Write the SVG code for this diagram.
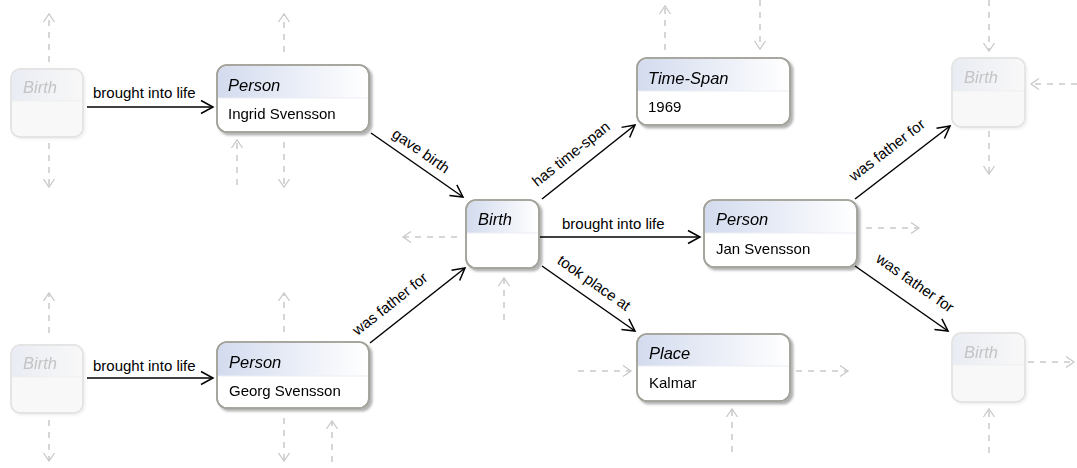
<svg xmlns="http://www.w3.org/2000/svg" width="1077" height="468" viewBox="0 0 1077 468">
<style>
text{font-family:"Liberation Sans",Arial,sans-serif;}
.hd{font-size:16.5px;font-style:italic;fill:#000;}
.val{font-size:15px;fill:#000;}
.lbl{font-size:15px;fill:#000;}
.fhd{font-size:16.5px;font-style:italic;fill:#c4c4c4;}
.box{fill:#fff;stroke:#a3a39b;stroke-width:1.6;}
.fbox{fill:#f8f8f8;stroke:#e3e3e3;stroke-width:1.4;}
.sep{stroke:#eceef4;stroke-width:1;}
.fsep{stroke:#efefef;stroke-width:1;}
.edge{fill:none;stroke:#000;stroke-width:1.5;marker-end:url(#ah);}
.stub{fill:none;stroke:#c9c9c9;stroke-width:1.5;stroke-dasharray:6 6;marker-end:url(#sh);}
</style>
<defs>
<linearGradient id="hg" x1="0" y1="0" x2="1" y2="0">
<stop offset="0" stop-color="#d3dbee"/>
<stop offset="1" stop-color="#ffffff"/>
</linearGradient>
<linearGradient id="fhg" x1="0" y1="0" x2="1" y2="0">
<stop offset="0" stop-color="#e9ecf3"/>
<stop offset="1" stop-color="#f8f8f8"/>
</linearGradient>
<filter id="sd" x="-10%" y="-10%" width="130%" height="140%">
<feDropShadow dx="2.5" dy="2.5" stdDeviation="1.2" flood-color="#000" flood-opacity="0.3"/>
</filter>
<filter id="fsd" x="-10%" y="-10%" width="130%" height="140%">
<feDropShadow dx="1.5" dy="1.5" stdDeviation="1" flood-color="#000" flood-opacity="0.06"/>
</filter>
<marker id="ah" viewBox="-14 -8 16 16" refX="0" refY="0" markerWidth="16" markerHeight="16" markerUnits="userSpaceOnUse" orient="auto">
<path d="M-12,-6.5 L0,0 L-12,6.5" fill="none" stroke="#000" stroke-width="1.5"/>
</marker>
<marker id="sh" viewBox="-12 -8 14 16" refX="0" refY="0" markerWidth="14" markerHeight="16" markerUnits="userSpaceOnUse" orient="auto">
<path d="M-8,-5.5 L0,0 L-8,5.5" fill="none" stroke="#c9c9c9" stroke-width="1.3"/>
</marker>
</defs>

<g id="stubs">
<path class="stub" d="M49,62 V14"/>
<path class="stub" d="M49,143 V187"/>
<path class="stub" d="M284,52 V14"/>
<path class="stub" d="M284,142 V187"/>
<path class="stub" d="M237,185 V140"/>
<path class="stub" d="M665,50 V6"/>
<path class="stub" d="M760,0 V49"/>
<path class="stub" d="M989,0 V51"/>
<path class="stub" d="M989,131 V174"/>
<path class="stub" d="M1077,84 H1031"/>
<path class="stub" d="M457,237 H403"/>
<path class="stub" d="M504,320 H504 V278"/>
<path class="stub" d="M866,228 H919"/>
<path class="stub" d="M578,371 H631"/>
<path class="stub" d="M796,371 H848"/>
<path class="stub" d="M732,452 V409"/>
<path class="stub" d="M1028,362 H1074"/>
<path class="stub" d="M989,453 V409"/>
<path class="stub" d="M49,333 V293"/>
<path class="stub" d="M49,420 V461"/>
<path class="stub" d="M284,332 V293"/>
<path class="stub" d="M284,418 V461"/>
<path class="stub" d="M332,462 V421"/>
</g>

<g id="connectors">
<path class="edge" d="M87,107 H213"/>
<text class="lbl" x="93" y="98">brought into life</text>
<path class="edge" d="M87,378 H213"/>
<text class="lbl" x="93" y="371">brought into life</text>
<path class="edge" d="M371,133 L463,197"/>
<text class="lbl" text-anchor="middle" y="5" transform="translate(421,151) rotate(34.8)">gave birth</text>
<path class="edge" d="M370,343 L465,268"/>
<text class="lbl" text-anchor="middle" y="5" transform="translate(390,304) rotate(-38.3)">was father for</text>
<path class="edge" d="M542,199 L635,125"/>
<text class="lbl" text-anchor="middle" y="5" transform="translate(571,154) rotate(-38.5)">has time-span</text>
<path class="edge" d="M539,237 H700"/>
<text class="lbl" x="562" y="229">brought into life</text>
<path class="edge" d="M542,266 L635,331"/>
<text class="lbl" text-anchor="middle" y="5" transform="translate(594,283) rotate(35)">took place at</text>
<path class="edge" d="M855,199 L950,126"/>
<text class="lbl" text-anchor="middle" y="5" transform="translate(887,150) rotate(-37.5)">was father for</text>
<path class="edge" d="M855,266 L948,331"/>
<text class="lbl" text-anchor="middle" y="5" transform="translate(915,283) rotate(35)">was father for</text>
</g>

<g id="birth-tl" filter="url(#fsd)">
<rect class="fbox" x="11" y="69" width="72" height="68" rx="9"/>
<path d="M11.7,101 V78 A9,9 0 0 1 20,69.7 H74 A9,9 0 0 1 82.3,78 V101 Z" fill="url(#fhg)"/>
<line class="fsep" x1="12" y1="101" x2="82" y2="101"/>
<rect x="11" y="69" width="72" height="68" rx="9" fill="none" stroke="#e3e3e3" stroke-width="1.4"/>
<text class="fhd" x="23" y="93">Birth</text>
</g>

<g id="person-ingrid" filter="url(#sd)">
<rect class="box" x="217" y="65" width="152" height="67" rx="10"/>
<path d="M218,98 V75 A9,9 0 0 1 227,66 H359 A9,9 0 0 1 368,75 V98 Z" fill="url(#hg)"/>
<line class="sep" x1="218" y1="98" x2="368" y2="98"/>
<rect x="217" y="65" width="152" height="67" rx="10" fill="none" stroke="#a3a39b" stroke-width="1.6"/>
<text class="hd" x="228" y="91">Person</text>
<text class="val" x="228" y="119">Ingrid Svensson</text>
</g>

<g id="timespan" filter="url(#sd)">
<rect class="box" x="637" y="58" width="153" height="67" rx="10"/>
<path d="M638,91 V68 A9,9 0 0 1 647,59 H780 A9,9 0 0 1 789,68 V91 Z" fill="url(#hg)"/>
<line class="sep" x1="638" y1="91" x2="789" y2="91"/>
<rect x="637" y="58" width="153" height="67" rx="10" fill="none" stroke="#a3a39b" stroke-width="1.6"/>
<text class="hd" x="648" y="84">Time-Span</text>
<text class="val" x="648" y="112">1969</text>
</g>

<g id="birth-tr" filter="url(#fsd)">
<rect class="fbox" x="952" y="58" width="73" height="69" rx="9"/>
<path d="M952.7,91 V67 A9,9 0 0 1 961,58.7 H1016 A9,9 0 0 1 1024.3,67 V91 Z" fill="url(#fhg)"/>
<line class="fsep" x1="953" y1="91" x2="1024" y2="91"/>
<rect x="952" y="58" width="73" height="69" rx="9" fill="none" stroke="#e3e3e3" stroke-width="1.4"/>
<text class="fhd" x="964" y="83">Birth</text>
</g>

<g id="birth-center" filter="url(#sd)">
<rect class="box" x="466" y="200" width="73" height="68" rx="10"/>
<path d="M467,233 V210 A9,9 0 0 1 476,201 H529 A9,9 0 0 1 538,210 V233 Z" fill="url(#hg)"/>
<line class="sep" x1="467" y1="233" x2="538" y2="233"/>
<rect x="466" y="200" width="73" height="68" rx="10" fill="none" stroke="#a3a39b" stroke-width="1.6"/>
<text class="hd" x="478" y="225">Birth</text>
</g>

<g id="person-jan" filter="url(#sd)">
<rect class="box" x="704" y="200" width="153" height="67" rx="10"/>
<path d="M705,233 V210 A9,9 0 0 1 714,201 H847 A9,9 0 0 1 856,210 V233 Z" fill="url(#hg)"/>
<line class="sep" x1="705" y1="233" x2="856" y2="233"/>
<rect x="704" y="200" width="153" height="67" rx="10" fill="none" stroke="#a3a39b" stroke-width="1.6"/>
<text class="hd" x="716" y="225">Person</text>
<text class="val" x="716" y="254">Jan Svensson</text>
</g>

<g id="place" filter="url(#sd)">
<rect class="box" x="637" y="334" width="153" height="67" rx="10"/>
<path d="M638,366 V344 A9,9 0 0 1 647,335 H780 A9,9 0 0 1 789,344 V366 Z" fill="url(#hg)"/>
<line class="sep" x1="638" y1="366" x2="789" y2="366"/>
<rect x="637" y="334" width="153" height="67" rx="10" fill="none" stroke="#a3a39b" stroke-width="1.6"/>
<text class="hd" x="649" y="359">Place</text>
<text class="val" x="649" y="388">Kalmar</text>
</g>

<g id="birth-br" filter="url(#fsd)">
<rect class="fbox" x="952" y="333" width="73" height="69" rx="9"/>
<path d="M952.7,365 V342 A9,9 0 0 1 961,333.7 H1016 A9,9 0 0 1 1024.3,342 V365 Z" fill="url(#fhg)"/>
<line class="fsep" x1="953" y1="365" x2="1024" y2="365"/>
<rect x="952" y="333" width="73" height="69" rx="9" fill="none" stroke="#e3e3e3" stroke-width="1.4"/>
<text class="fhd" x="964" y="358">Birth</text>
</g>

<g id="birth-bl" filter="url(#fsd)">
<rect class="fbox" x="11" y="345" width="72" height="68" rx="9"/>
<path d="M11.7,377 V354 A9,9 0 0 1 20,345.7 H74 A9,9 0 0 1 82.3,354 V377 Z" fill="url(#fhg)"/>
<line class="fsep" x1="12" y1="377" x2="82" y2="377"/>
<rect x="11" y="345" width="72" height="68" rx="9" fill="none" stroke="#e3e3e3" stroke-width="1.4"/>
<text class="fhd" x="23" y="369">Birth</text>
</g>

<g id="person-georg" filter="url(#sd)">
<rect class="box" x="217" y="342" width="152" height="66" rx="10"/>
<path d="M218,376 V352 A9,9 0 0 1 227,343 H359 A9,9 0 0 1 368,352 V376 Z" fill="url(#hg)"/>
<line class="sep" x1="218" y1="376" x2="368" y2="376"/>
<rect x="217" y="342" width="152" height="66" rx="10" fill="none" stroke="#a3a39b" stroke-width="1.6"/>
<text class="hd" x="229" y="368">Person</text>
<text class="val" x="229" y="396">Georg Svensson</text>
</g>
</svg>
